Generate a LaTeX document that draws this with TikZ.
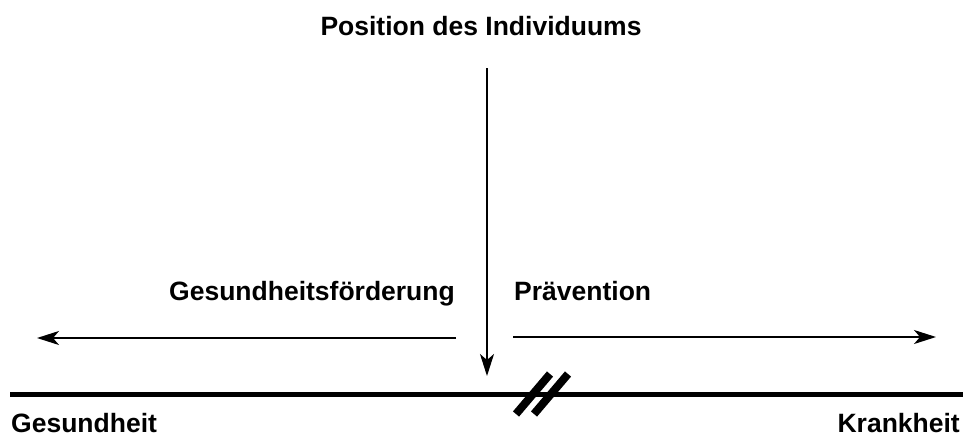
\documentclass[tikz,border=0pt]{standalone}
\usepackage{fontspec}
\setmainfont{Liberation Sans}
\usetikzlibrary{arrows.meta}
\begin{document}
\begin{tikzpicture}[x=1pt,y=-1pt,
  lbl/.style={inner sep=0pt,font=\fontsize{26.5}{31}\selectfont\bfseries},
  conn/.style={line width=1.8pt,-{Stealth[length=22pt,width=14pt,inset=6pt]}},
  axisline/.style={line width=4.5pt},
  breakmark/.style={line width=8pt,line cap=butt}]
\useasboundingbox (0,0) rectangle (963,437);
% labels
\node[lbl,anchor=base] (pos) at (481,35) {Position des Individuums};
\node[lbl,anchor=base east] (gf) at (455,300) {Gesundheitsförderung};
\node[lbl,anchor=base west] (prae) at (514,300) {Prävention};
\node[lbl,anchor=base west] (ges) at (11,432) {Gesundheit};
\node[lbl,anchor=base east] (krank) at (960,432) {Krankheit};
% coordinates
\coordinate (vtop) at (487,68);
\coordinate (vtip) at (487,376);
\coordinate (lstart) at (456,338);
\coordinate (ltip) at (37,338);
\coordinate (rstart) at (513,337);
\coordinate (rtip) at (936,337);
\coordinate (axl) at (10,394.5);
\coordinate (axr) at (963,394.5);
\coordinate (b1a) at (516,414);
\coordinate (b1b) at (550,374);
\coordinate (b2a) at (534,414);
\coordinate (b2b) at (568,374);
% axis
\draw[axisline] (axl) -- (axr);
\draw[breakmark] (b1a) -- (b1b);
\draw[breakmark] (b2a) -- (b2b);
% arrows
\draw[conn] (vtop) -- (vtip);
\draw[conn] (lstart) -- (ltip);
\draw[conn] (rstart) -- (rtip);
\end{tikzpicture}
\end{document}
